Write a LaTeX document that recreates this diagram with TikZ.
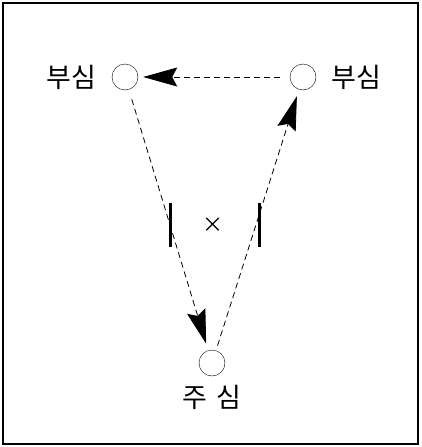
\documentclass[tikz,border=0pt]{standalone}
\usepackage{fontspec}
\newfontfamily\kofont{Noto Sans CJK KR}
\usepackage{tikz}
\usetikzlibrary{arrows.meta, positioning}

\begin{document}
\begin{tikzpicture}[x=1pt, y=-1pt,
        post/.style={circle, draw, thin, minimum size=26pt, inner sep=0pt},
        lbl/.style={font=\kofont\fontsize{27}{32}\selectfont, inner sep=0pt},
        arr/.style={-{Stealth[length=34pt, width=19pt, inset=5pt]}, dash pattern=on 6pt off 4pt,
                    line width=0.8pt, shorten <=10pt, shorten >=7pt},
        bar/.style={line width=3pt}
      ]
      \useasboundingbox (0,0) rectangle (421,447);
      \draw[line width=2pt] (3,3) rectangle (418,444);
      % three positions
      \node[post] (sideL) at (125,77) {};
      \node[post] (sideR) at (303,77) {};
      \node[post] (main) at (212,363) {};
      \node[lbl, left=15pt of sideL] (txtL) {부심};
      \node[lbl, right=15pt of sideR] (txtR) {부심};
      \node[lbl, below=9pt of main] (txtM) {주\,\,심};
      % centre mark
      \node[font=\kofont\fontsize{21}{25}\selectfont, inner sep=0pt] (ctr) at (213,225) {×};
      % runs
      \draw[arr, shorten >=5pt] (sideR) -- (sideL);
      \draw[arr] (sideL) -- (main);
      \draw[arr, shorten <=5pt] (main) -- (sideR);
      \draw[bar] (170,203) -- (170,247);
      \draw[bar] (259,203) -- (259,247);
    \end{tikzpicture}
\end{document}
